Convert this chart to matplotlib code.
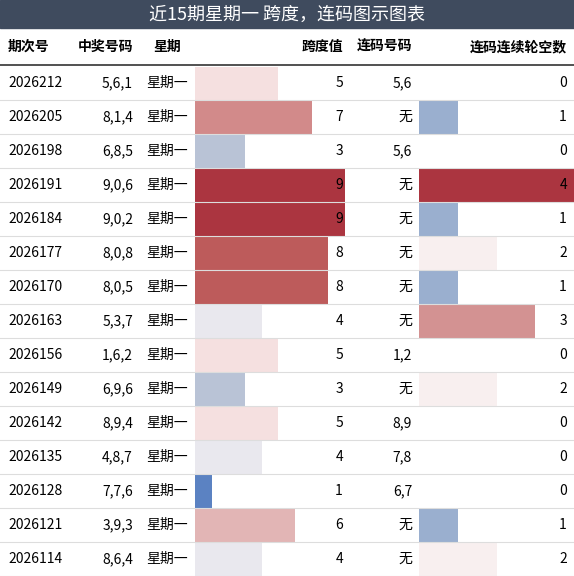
import matplotlib
matplotlib.use("Agg")
import matplotlib.pyplot as plt
from matplotlib.colors import LinearSegmentedColormap, Normalize

plt.rcParams['font.family'] = ['Noto Sans CJK SC', 'DejaVu Sans']

title = "近15期星期一 跨度，连码图示图表"
headers = ["期次号", "中奖号码", "星期", "跨度值", "连码号码", "连码连续轮空数"]
periods = ["2026212","2026205","2026198","2026191","2026184","2026177","2026170","2026163",
           "2026156","2026149","2026142","2026135","2026128","2026121","2026114"]
numbers = ["5,6,1","8,1,4","6,8,5","9,0,6","9,0,2","8,0,8","8,0,5","5,3,7",
           "1,6,2","6,9,6","8,9,4","4,8,7","7,7,6","3,9,3","8,6,4"]
weekday = ["星期一"] * 15
span = [5,7,3,9,9,8,8,4,5,3,5,4,1,6,4]
lianma = ["5,6","无","5,6","无","无","无","无","无","1,2","无","8,9","7,8","6,7","无","无"]
gap = [0,1,0,4,1,2,1,3,0,2,0,0,0,1,2]

W, H = 574, 576
fig = plt.figure(figsize=(W/100, H/100), dpi=100)
ax = fig.add_axes([0, 0, 1, 1])
ax.set_xlim(0, W); ax.set_ylim(H, 0); ax.axis('off')

cmap1 = LinearSegmentedColormap.from_list("s", [
    (0, "#5b82c2"), (0.25, "#b9c3d6"), (0.375, "#e9e8ee"), (0.5, "#f5e1e1"),
    (0.625, "#e2b6b6"), (0.75, "#d38b8b"), (0.875, "#bd5c5c"), (1, "#ab3540")])
cmap2 = LinearSegmentedColormap.from_list("g", [
    (0, "#5b82c2"), (0.25, "#9aafcf"), (0.5, "#f8f0f0"), (0.75, "#d39393"), (1, "#ab3540")])
n1 = Normalize(1, 9)
n2 = Normalize(0, 4)

ax.add_patch(plt.Rectangle((0, 0), W, 28, color="#3f4b5e"))
ax.text(W/2, 15, title, color="white", ha="center", va="center", fontsize=13)

hy = 47
ax.text(8, hy, headers[0], ha="left", va="center", fontsize=10, fontweight="bold")
ax.text(133, hy, headers[1], ha="right", va="center", fontsize=10, fontweight="bold")
ax.text(167, hy, headers[2], ha="center", va="center", fontsize=10, fontweight="bold")
ax.text(343, hy, headers[3], ha="right", va="center", fontsize=10, fontweight="bold")
ax.text(412, hy, headers[4], ha="right", va="center", fontsize=10, fontweight="bold")
ax.text(567, hy, headers[5], ha="right", va="center", fontsize=10, fontweight="bold")
ax.plot([0, W], [65, 65], color="#333333", lw=1.2)

y0, rh = 66, 34
ys = [y0 + rh * i + rh / 2 for i in range(15)]
x1, w1 = 195, 150
x2, w2 = 419, 155
ax.barh(ys, [v / 9 * w1 for v in span], left=x1, height=rh - 1,
        color=[cmap1(n1(v)) for v in span])
ax.barh(ys, [v / 4 * w2 for v in gap], left=x2, height=rh - 1,
        color=[cmap2(n2(v)) for v in gap])
for i, y in enumerate(ys):
    ax.text(8, y, periods[i], ha="left", va="center", fontsize=10)
    ax.text(133, y, numbers[i], ha="right", va="center", fontsize=10)
    ax.text(167, y, weekday[i], ha="center", va="center", fontsize=10)
    ax.text(343, y, str(span[i]), ha="right", va="center", fontsize=10)
    ax.text(412, y, lianma[i], ha="right", va="center", fontsize=10)
    ax.text(567, y, str(gap[i]), ha="right", va="center", fontsize=10)
    ax.plot([0, W], [y0 + rh * (i + 1), y0 + rh * (i + 1)], color="#dddddd", lw=0.8)

fig.savefig("out.png", dpi=100)
